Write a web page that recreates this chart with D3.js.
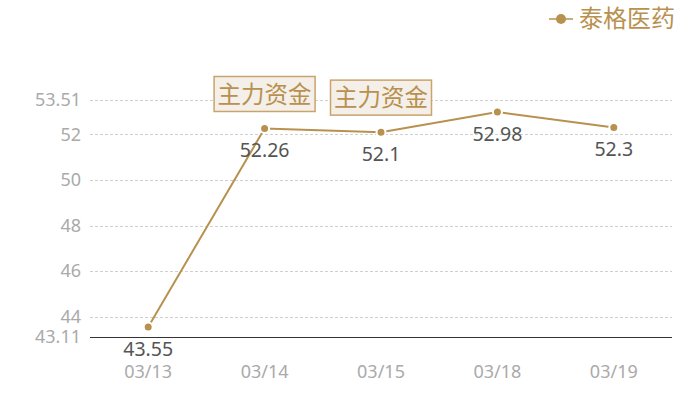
<!DOCTYPE html>
<html>
<head>
<meta charset="utf-8">
<script src="https://cdn.jsdelivr.net/npm/d3@7"></script>
<style>
body { margin: 0; background: #fff; }
text { font-family: "Noto Sans", "Noto Sans CJK SC", sans-serif; }
</style>
</head>
<body>
<svg id="chart" width="700" height="400"></svg>
<script>
// data
const dates = ["03/13", "03/14", "03/15", "03/18", "03/19"];
const prices = [43.55, 52.26, 52.1, 52.98, 52.3];
const yTicks = [43.11, 44, 46, 48, 50, 52, 53.51];
const yMin = 43.11, yMax = 53.51;
const seriesName = "泰格医药";
const flagText = "主力资金";
const flagDates = ["03/14", "03/15"];

const gold = "#b8914f";
const svg = d3.select("#chart");

const x = d3.scaleBand().domain(dates).range([90, 672]);
const y = d3.scaleLinear().domain([yMin, yMax]).range([337, 100]);
const cx = d => x(d) + x.bandwidth() / 2;

// grid lines
svg.append("g").selectAll("line")
    .data(yTicks.filter(t => t !== yMin))
    .enter().append("line")
    .attr("x1", 90).attr("x2", 672)
    .attr("y1", d => Math.round(y(d)) + 0.5).attr("y2", d => Math.round(y(d)) + 0.5)
    .attr("stroke", "#d0d0d0").attr("stroke-dasharray", "3,2");

// y labels
svg.append("g").selectAll("text")
    .data(yTicks)
    .enter().append("text")
    .attr("x", 81).attr("y", d => y(d))
    .attr("dy", "0.35em")
    .attr("text-anchor", "end")
    .attr("fill", "#aaa").attr("font-size", 18)
    .text(d => d);

// x axis
svg.append("line")
    .attr("x1", 90).attr("x2", 672)
    .attr("y1", y(yMin) + 0.5).attr("y2", y(yMin) + 0.5)
    .attr("stroke", "#333").attr("stroke-width", 1);

svg.append("g").selectAll("text")
    .data(dates)
    .enter().append("text")
    .attr("x", d => cx(d)).attr("y", 372)
    .attr("dy", "0.35em")
    .attr("text-anchor", "middle")
    .attr("fill", "#aaa").attr("font-size", 18)
    .text(d => d);

// line
const line = d3.line().x((d, i) => cx(dates[i])).y(d => y(d));
svg.append("path")
    .datum(prices)
    .attr("d", line)
    .attr("fill", "none")
    .attr("stroke", gold).attr("stroke-width", 2);

svg.append("g").selectAll("circle")
    .data(prices)
    .enter().append("circle")
    .attr("cx", (d, i) => cx(dates[i])).attr("cy", d => y(d))
    .attr("r", 4.5)
    .attr("fill", gold).attr("stroke", "#fff").attr("stroke-width", 2);

// value labels under points
svg.append("g").selectAll("text")
    .data(prices)
    .enter().append("text")
    .attr("x", (d, i) => cx(dates[i])).attr("y", d => y(d) + 22)
    .attr("dy", "0.35em")
    .attr("text-anchor", "middle")
    .attr("fill", "#555").attr("font-size", 19.5)
    .text(d => d);

// flags above points
const flags = svg.append("g").selectAll("g")
    .data(flagDates)
    .enter().append("g")
    .attr("transform", d => {
        const v = prices[dates.indexOf(d)];
        return "translate(" + cx(d) + "," + (y(v) - 34) + ")";
    });
flags.append("rect")
    .attr("x", -50.5).attr("y", -18).attr("width", 101).attr("height", 35)
    .attr("fill", "#f4efe8").attr("stroke", "#c9a46c").attr("stroke-width", 1.5);
flags.append("text")
    .attr("text-anchor", "middle").attr("dy", "0.35em")
    .attr("fill", gold).attr("font-size", 23.5)
    .text(flagText);

// legend
const lg = svg.append("g").attr("transform", "translate(549,19)");
lg.append("line").attr("x1", 0).attr("x2", 24).attr("stroke", gold).attr("stroke-width", 1.5);
lg.append("circle").attr("cx", 12).attr("r", 5).attr("fill", gold);
lg.append("text").attr("x", 30).attr("dy", "0.35em")
    .attr("fill", gold).attr("font-size", 24)
    .text(seriesName);
</script>
</body>
</html>
